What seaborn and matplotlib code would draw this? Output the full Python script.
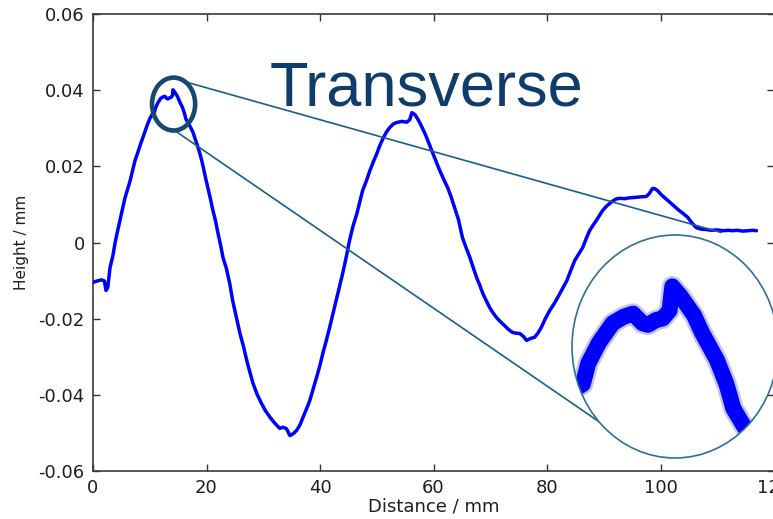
import matplotlib
matplotlib.use("Agg")
import matplotlib.pyplot as plt
from matplotlib.patches import Ellipse
import pandas as pd
import seaborn as sns

# Surface profile measured across the sample
distance_mm = [
    0.0, 0.5, 1.0, 1.5, 2.0, 2.3, 2.6, 3.0, 3.5, 3.9,
    4.3, 4.75, 5.2, 5.6, 6.0, 6.5, 7.0, 7.4, 7.8, 8.3,
    8.7, 9.2, 9.6, 10.0, 10.4, 10.8, 11.0, 11.4, 11.9, 12.3,
    12.65, 13.0, 13.2, 13.5, 13.75, 14.0, 14.1, 14.4, 14.9, 15.2,
    15.75, 16.1, 16.35, 16.7, 17.1, 17.6, 18.0, 18.5, 19.0, 19.4,
    19.8, 20.2, 20.7, 21.1, 21.6, 22.0, 22.5, 22.9, 23.5, 24.1,
    24.6, 25.2, 25.9, 26.5, 27.1, 27.6, 28.2, 28.9, 29.7, 30.4,
    31.2, 32.0, 32.9, 33.5, 34.1, 34.7, 35.3, 35.9, 36.5, 37.0,
    37.6, 38.2, 38.8, 39.4, 40.0, 40.5, 41.1, 41.7, 42.3, 42.9,
    43.5, 44.0, 44.6, 45.2, 45.8, 46.5, 47.0, 47.5, 48.2, 48.8,
    49.4, 50.0, 50.5, 51.1, 51.7, 52.3, 52.9, 53.5, 54.4, 55.3,
    55.8, 56.2, 56.7, 57.2, 57.8, 58.5, 59.1, 59.7, 60.4, 61.1,
    61.8, 62.5, 63.1, 63.7, 64.4, 65.1, 65.7, 66.4, 67.0, 67.6,
    68.2, 68.7, 69.3, 69.9, 70.5, 71.1, 71.8, 72.5, 73.2, 73.9,
    74.5, 75.2, 75.8, 76.4, 77.1, 77.8, 78.4, 79.0, 79.7, 80.5,
    81.2, 81.9, 82.7, 83.5, 84.2, 84.9, 85.6, 86.3, 86.9, 87.5,
    88.1, 88.7, 89.3, 89.8, 90.4, 91.0, 91.7, 92.3, 93.0, 93.7,
    94.4, 95.1, 95.9, 96.7, 97.5, 98.0, 98.6, 99.0, 99.5, 100.1,
    100.7, 101.3, 101.9, 102.6, 103.3, 104.0, 104.8, 105.5, 106.3, 107.2,
    108.1, 109.0, 110.0, 111.0, 112.0, 112.7, 113.5, 114.5, 115.5, 116.2,
    116.9,
]
height_mm = [
    -0.0105, -0.0102, -0.0100, -0.0098, -0.0101, -0.0126, -0.0118, -0.0066, -0.0035, 0.0000,
    0.0028, 0.0058, 0.0088, 0.0115, 0.0135, 0.0160, 0.0190, 0.0215, 0.0232, 0.0255,
    0.0272, 0.0294, 0.0310, 0.0325, 0.0336, 0.0340, 0.0353, 0.0366, 0.0378, 0.0382,
    0.0384, 0.0378, 0.0377, 0.0380, 0.0381, 0.0386, 0.0401, 0.0395, 0.0383, 0.0372,
    0.0355, 0.0340, 0.0325, 0.0315, 0.0305, 0.0290, 0.0272, 0.0250, 0.0225, 0.0200,
    0.0172, 0.0146, 0.0114, 0.0086, 0.0056, 0.0026, -0.0008, -0.0039, -0.0068, -0.0108,
    -0.0152, -0.0192, -0.0239, -0.0272, -0.0310, -0.0338, -0.0370, -0.0398, -0.0423, -0.0442,
    -0.0459, -0.0474, -0.0488, -0.0485, -0.0489, -0.0507, -0.0502, -0.0493, -0.0478, -0.0459,
    -0.0438, -0.0415, -0.0385, -0.0354, -0.0322, -0.0291, -0.0258, -0.0223, -0.0186, -0.0150,
    -0.0112, -0.0081, -0.0040, 0.0005, 0.0042, 0.0076, 0.0106, 0.0136, 0.0163, 0.0189,
    0.0212, 0.0233, 0.0253, 0.0273, 0.0290, 0.0302, 0.0311, 0.0315, 0.0318, 0.0316,
    0.0322, 0.0341, 0.0336, 0.0325, 0.0308, 0.0286, 0.0264, 0.0241, 0.0215, 0.0189,
    0.0166, 0.0144, 0.0120, 0.0092, 0.0060, 0.0013, -0.0012, -0.0039, -0.0066, -0.0092,
    -0.0114, -0.0134, -0.0153, -0.0171, -0.0185, -0.0197, -0.0208, -0.0218, -0.0228, -0.0236,
    -0.0238, -0.0239, -0.0246, -0.0257, -0.0252, -0.0249, -0.0238, -0.0223, -0.0200, -0.0178,
    -0.0162, -0.0144, -0.0122, -0.0100, -0.0073, -0.0047, -0.0030, -0.0013, 0.0010, 0.0031,
    0.0045, 0.0058, 0.0072, 0.0084, 0.0094, 0.0102, 0.0110, 0.0115, 0.0116, 0.0115,
    0.0117, 0.0118, 0.0119, 0.0120, 0.0121, 0.0128, 0.0142, 0.0141, 0.0136, 0.0126,
    0.0118, 0.0110, 0.0102, 0.0093, 0.0084, 0.0076, 0.0066, 0.0052, 0.0039, 0.0035,
    0.0034, 0.0032, 0.0033, 0.0031, 0.0032, 0.0031, 0.0032, 0.0030, 0.0031, 0.0032,
    0.0031,
]

x_ticks = [0, 20, 40, 60, 80, 100, 120]
y_ticks = [-0.06, -0.04, -0.02, 0, 0.02, 0.04, 0.06]
y_tick_labels = ["-0.06", "-0.04", "-0.02", "0", "0.02", "0.04", "0.06"]

# Region around the first crest that is shown magnified
zoom_x = (10.4, 18.0)
zoom_y = (0.0294, 0.0433)

profile = pd.DataFrame({"distance": distance_mm, "height": height_mm})

sns.set_style("ticks")
plt.rcParams["font.family"] = ["DejaVu Sans"]

W, H = 773, 519
fig = plt.figure(figsize=(W / 100, H / 100), dpi=100)
ax = fig.add_axes([93 / W, 48 / H, 681 / W, 457 / H])

sns.lineplot(data=profile, x="distance", y="height", ax=ax, color="#0000ff",
             lw=2.5, estimator=None, sort=False, zorder=3)

ax.set_xlim(0, 120)
ax.set_ylim(-0.06, 0.06)
ax.set_xticks(x_ticks)
ax.set_yticks(y_ticks)
ax.set_yticklabels(y_tick_labels)
ax.tick_params(direction="in", length=5, width=1, top=True, right=True,
               labelsize=13, colors="#333333", labelcolor="#1e1e1e", pad=6)
for sp in ax.spines.values():
    sp.set_visible(True)
    sp.set_color("#3a3a3a")
    sp.set_linewidth(1.2)

ax.set_xlabel("Distance / mm", fontsize=13, color="#1e1e1e")
ax.set_ylabel("Height / mm", fontsize=11, color="#1e1e1e")
ax.xaxis.set_label_coords(0.5, -0.059)
ax.yaxis.set_label_coords(-0.094, 0.5)

# Marker ring around the crest
ax.add_patch(Ellipse(((zoom_x[0] + zoom_x[1]) / 2, (zoom_y[0] + zoom_y[1]) / 2),
                     zoom_x[1] - zoom_x[0], zoom_y[1] - zoom_y[0],
                     fill=False, ec="#17496f", lw=3.3, zorder=5, clip_on=False))

# Connector lines from the ring to the magnified view
ax.plot([16.0, 110.7], [0.0423, 0.00262], color="#1b5e8c", lw=1.2,
        zorder=4, clip_on=False)
ax.plot([13.9, 89.6], [0.0299, -0.0475], color="#1b5e8c", lw=1.2,
        zorder=4, clip_on=False)

fig.text(270 / W, 1 - 106 / H, "Transverse", fontsize=45.5,
         family="Liberation Sans", color="#0e3d6b", ha="left", va="baseline")

# Magnified view of the crest
ax_in = fig.add_axes([572 / W, 61 / H, 206 / W, 223 / H])
ax_in.set_xlim(*zoom_x)
ax_in.set_ylim(*zoom_y)
ax_in.axis("off")
lens = Ellipse((0.5, 0.5), 1, 1, transform=ax_in.transAxes, facecolor="white",
               edgecolor="none", zorder=0, clip_on=False)
ax_in.add_patch(lens)
n_before = len(ax_in.lines)
sns.lineplot(data=profile, x="distance", y="height", ax=ax_in, color="#c4c4ff",
             lw=15, estimator=None, sort=False, zorder=2)
sns.lineplot(data=profile, x="distance", y="height", ax=ax_in, color="#0000ff",
             lw=11.5, estimator=None, sort=False, zorder=3)
for ln in ax_in.lines[n_before:]:
    ln.set_clip_path(lens)
    ln.set_solid_joinstyle("round")
    ln.set_solid_capstyle("butt")
ax_in.add_patch(Ellipse((0.5, 0.5), 1, 1, transform=ax_in.transAxes,
                        facecolor="none", edgecolor="#2f6f98", lw=1.2,
                        zorder=5, clip_on=False))

fig.savefig("out.png", dpi=100)
